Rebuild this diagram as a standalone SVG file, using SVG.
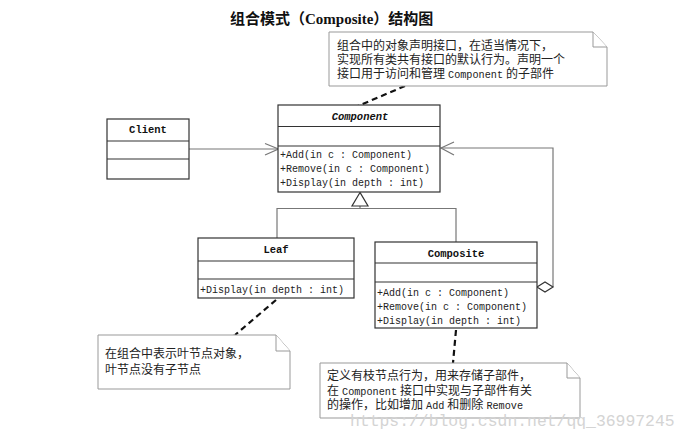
<svg xmlns="http://www.w3.org/2000/svg" width="690" height="441" viewBox="0 0 690 441">
<style>
.box{fill:#fff;stroke:#333;stroke-width:1.2}
.sep{stroke:#333;stroke-width:1.2}
.cls{font-family:"Liberation Mono","Noto Sans CJK SC",monospace;font-size:10.5px;font-weight:bold;fill:#111;text-anchor:middle}
.m{font-family:"Liberation Mono","Noto Sans CJK SC",monospace;font-size:10px;fill:#222}
.conn{fill:none;stroke:#777;stroke-width:1.2}
.note{fill:#fff;stroke:#999;stroke-width:1}
.nt{font-family:"Liberation Serif","Noto Sans CJK SC",serif;font-size:12px;fill:#222}
.lat{font-family:"Liberation Mono",monospace;font-size:10.2px}
.dash{fill:none;stroke:#111;stroke-width:2.2;stroke-dasharray:6 4}
.title{font-family:"Liberation Serif","Noto Sans CJK SC",serif;font-size:15px;font-weight:bold;fill:#111}
.wm{font-family:"Liberation Mono",monospace;font-size:16.4px;fill:#d4d4d4}
</style>

<text class="title" x="230" y="24">组合模式（Composite）结构图</text>

<g id="connectors">
  <line class="conn" x1="189" y1="149" x2="278" y2="149"/>
  <polyline class="conn" points="265,143.5 278.5,149 265,155"/>
  <polyline class="conn" points="553,287 553,148 441,148"/>
  <polyline class="conn" points="454,142 441,148 454,155"/>
  <polygon points="537,287 545,282 553,287 545,292" fill="#fff" stroke="#333" stroke-width="1.2"/>
  <polyline class="conn" points="277,238 277,208.5 456,208.5 456,242"/>
  <line class="conn" x1="360" y1="206" x2="360" y2="208.5"/>
  <polygon points="360,192.5 352,206 368,206" fill="#fff" stroke="#333" stroke-width="1.2"/>
  <line class="dash" x1="405" y1="86" x2="358" y2="106"/>
  <line class="dash" x1="276" y1="300" x2="235" y2="335"/>
  <line x1="235" y1="335" x2="214" y2="347" stroke="#aaa" stroke-width="2.2" stroke-dasharray="6 4"/>
  <line class="dash" x1="456" y1="330" x2="453" y2="363"/>
</g>

<g id="component">
  <rect class="box" x="278" y="105" width="162" height="87"/>
  <line class="sep" x1="278" y1="126.5" x2="440" y2="126.5"/>
  <line class="sep" x1="278" y1="146" x2="440" y2="146"/>
  <text class="cls" x="360" y="120" font-style="italic">Component</text>
  <text class="m" x="280" y="158">+Add(in c : Component)</text>
  <text class="m" x="280" y="172">+Remove(in c : Component)</text>
  <text class="m" x="280" y="186">+Display(in depth : int)</text>
</g>

<g id="client">
  <rect class="box" x="107" y="119" width="82" height="60"/>
  <line class="sep" x1="107" y1="141" x2="189" y2="141"/>
  <line class="sep" x1="107" y1="159" x2="189" y2="159"/>
  <text class="cls" x="148" y="133">Client</text>
</g>

<g id="leaf">
  <rect class="box" x="198" y="238" width="156" height="60"/>
  <line class="sep" x1="198" y1="261" x2="354" y2="261"/>
  <line class="sep" x1="198" y1="279" x2="354" y2="279"/>
  <text class="cls" x="276" y="253">Leaf</text>
  <text class="m" x="200" y="292.5">+Display(in depth : int)</text>
</g>

<g id="composite">
  <rect class="box" x="375" y="242" width="162" height="86"/>
  <line class="sep" x1="375" y1="263" x2="537" y2="263"/>
  <line class="sep" x1="375" y1="282" x2="537" y2="282"/>
  <text class="cls" x="456" y="257">Composite</text>
  <text class="m" x="377" y="296">+Add(in c : Component)</text>
  <text class="m" x="377" y="310">+Remove(in c : Component)</text>
  <text class="m" x="377" y="323.5">+Display(in depth : int)</text>
</g>

<g id="note-component">
  <path class="note" d="M329,32 H593 L607,47 V86 H329 Z"/>
  <path class="note" d="M593,32 V47 H607" fill="none"/>
  <text class="nt" x="337" y="49.5">组合中的对象声明接口，在适当情况下，</text>
  <text class="nt" x="337" y="63.5">实现所有类共有接口的默认行为。声明一个</text>
  <text class="nt" x="337" y="77.5">接口用于访问和管理 <tspan class="lat">Component</tspan> 的子部件</text>
</g>

<g id="note-leaf">
  <path class="note" d="M98,335 H276 L290,351 V389 H98 Z"/>
  <path class="note" d="M276,335 V351 H290" fill="none"/>
  <text class="nt" x="105" y="357.5">在组合中表示叶节点对象，</text>
  <text class="nt" x="105" y="374">叶节点没有子节点</text>
</g>

<g id="note-composite">
  <path class="note" d="M320,363 H567 L580,378 V418 H320 Z"/>
  <path class="note" d="M567,363 V378 H580" fill="none"/>
  <text class="nt" x="327" y="380">定义有枝节点行为，用来存储子部件，</text>
  <text class="nt" x="327" y="394.5">在 <tspan class="lat">Component</tspan> 接口中实现与子部件有关</text>
  <text class="nt" x="327" y="409">的操作，比如增加 <tspan class="lat">Add</tspan> 和删除 <tspan class="lat">Remove</tspan></text>
</g>

<text class="wm" x="350" y="426">https://blog.csdn.net/qq_36997245</text>
</svg>
